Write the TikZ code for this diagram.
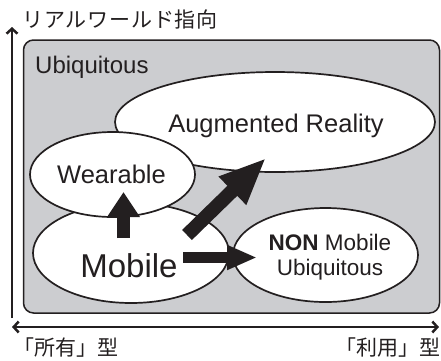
\documentclass[tikz,border=0pt]{standalone}
\usepackage{fontspec}
\setmainfont{Liberation Sans}
\newfontfamily\jpfont{Noto Sans CJK JP}
\newfontfamily\jpfontwide[LetterSpace=4]{Noto Sans CJK JP}
\usetikzlibrary{shapes.geometric,arrows.meta}
\definecolor{boxgray}{RGB}{204,205,208}
\definecolor{ink}{RGB}{35,31,32}
\begin{document}
\begin{tikzpicture}[x=1pt,y=-1pt,
  ell/.style={draw=ink, line width=1.7pt, fill=white, ellipse, inner sep=0pt},
  axisline/.style={draw=ink, line width=2.5pt},
  axbarb/.tip={Straight Barb[length=5pt,width=11pt]},
  jp/.style={font=\jpfont\fontsize{21}{24}\selectfont, text=ink, inner sep=0pt},
  lbl/.style={text=ink, inner sep=0pt, anchor=base},
  blockarrow/.style={draw=ink, line cap=butt}]
\useasboundingbox (0,0) rectangle (441,360);
% axes
\coordinate (yb) at (12,318);
\coordinate (yt) at (12,27);
\coordinate (xl) at (12,327);
\coordinate (xr) at (439,327);
\draw[axisline, -{axbarb}] (yb) -- (yt);
\draw[axisline, {axbarb}-{axbarb}] (xl) -- (xr);
\node[jp, anchor=base west, font=\jpfontwide\fontsize{21}{24}\selectfont] (ylab) at (22,27) {リアルワールド指向};
\node[jp, anchor=base west] (xlabl) at (13,355) {「所有」型};
\node[jp, anchor=base east] (xlabr) at (441,355) {「利用」型};
% ubiquitous box
\node[draw=ink, line width=1.5pt, fill=boxgray, rounded corners=10pt,
      minimum width=416pt, minimum height=273pt, inner sep=0pt] (ubi) at (231.5,176.5) {};
\node[lbl, anchor=base west, font=\fontsize{24}{28}\selectfont] (ubilab) at (35,73) {Ubiquitous};
% ellipses
\node[ell, minimum width=320pt, minimum height=100pt] (ar) at (275,122) {};
\node[ell, minimum width=196pt, minimum height=100pt] (mob) at (131,253) {};
\node[ell, minimum width=165pt, minimum height=85pt] (wear) at (112.5,174.5) {};
\node[ell, minimum width=185pt, minimum height=94pt] (non) at (325.5,255) {};
% labels
\node[lbl, font=\fontsize{25.5}{28}\selectfont] (arlab) at (276,132) {Augmented Reality};
\node[lbl, font=\fontsize{25.5}{28}\selectfont] (wlab) at (111.5,183) {Wearable};
\node[lbl, font=\fontsize{33}{36}\selectfont] (mlab) at (129,277) {Mobile};
\node[lbl, font=\fontsize{22.5}{25}\selectfont] (nlab1) at (330,250) {\textbf{NON} Mobile};
\node[lbl, font=\fontsize{22.5}{25}\selectfont] (nlab2) at (330,275) {Ubiquitous};
% block arrows
\coordinate (upA) at (123.5,238);
\coordinate (upB) at (123.5,192);
\coordinate (dgA) at (187,235);
\coordinate (dgB) at (266,158);
\coordinate (hzA) at (183,257.5);
\coordinate (hzB) at (257,257.5);
\draw[blockarrow, line width=13pt, -{Triangle[length=25pt,width=31pt]}] (upA) -- (upB);
\draw[blockarrow, line width=14pt, -{Triangle[length=47pt,width=36pt]}] (dgA) -- (dgB);
\draw[blockarrow, line width=11pt, -{Triangle[length=30pt,width=23pt]}] (hzA) -- (hzB);
\end{tikzpicture}
\end{document}
